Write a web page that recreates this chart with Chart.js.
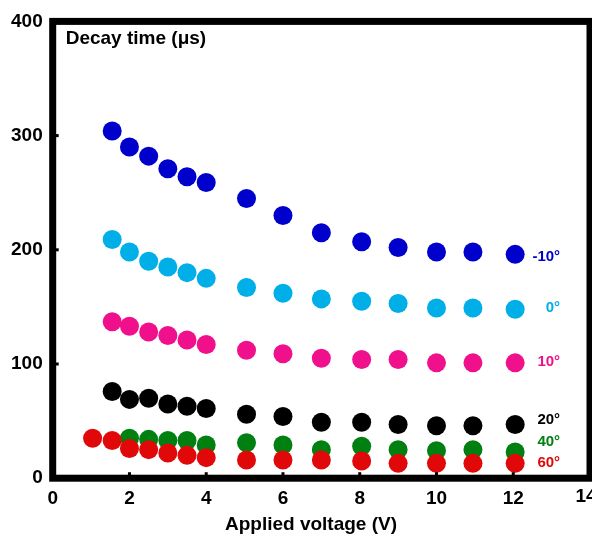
<!DOCTYPE html>
<html>
<head>
<meta charset="utf-8">
<script src="https://cdn.jsdelivr.net/npm/chart.js@4"></script>
<style>
  html, body { margin: 0; padding: 0; background: #fff; }
  #wrap { width: 592px; height: 538px; }
</style>
</head>
<body>
<div id="wrap"><canvas id="chart"></canvas></div>
<script>
// applied voltage (V)
const voltages = [1.55, 2.0, 2.5, 3.0, 3.5, 4.0, 5.05, 6.0, 7.0, 8.05, 9.0, 10.0, 10.95, 12.05];
const voltages40 = voltages.slice(1);
const voltages60 = [1.04].concat(voltages);

// decay time (us) per temperature
const decayM10 = [304, 290, 282, 271, 264, 259, 245, 230, 215, 207, 202, 198, 198, 196];
const decay0 = [209, 198, 190, 185, 180, 175, 167, 162, 157, 155, 153, 149, 149, 148];
const decay10 = [137, 133, 128, 125, 121, 117, 112, 109, 105, 104, 104, 101, 101, 101];
const decay20 = [76, 69, 70, 65, 63, 61, 56, 54, 49, 49, 47, 46, 46, 47];
const decay40 = [35, 34, 33, 33, 29, 31, 29, 25, 28, 25, 24, 25, 23];
const decay60 = [35, 33, 26, 25, 22, 20, 18, 16, 16, 16, 15, 13, 13, 13, 13];

const seriesLabels = ['-10°', '0°', '10°', '20°', '40°', '60°'];
const labelY = [194, 149, 102, 51, 32, 13];
const labelX = 13.22;
const colors = ['#0000cc', '#00aee8', '#f0108c', '#000000', '#008010', '#e00808'];

const xTitle = 'Applied voltage (V)';
const yTitle = 'Decay time (\u03bcs)';

const FONT = 'Liberation Sans, Arial, Helvetica, sans-serif';
const XMAX = 14;

function pts(xs, ys) {
  return ys.map((y, i) => ({ x: xs[i], y: y }));
}

const xsList = [voltages, voltages, voltages, voltages, voltages40, voltages60];
const ysList = [decayM10, decay0, decay10, decay20, decay40, decay60];

const datasets = seriesLabels.map((name, i) => ({
  label: name,
  data: pts(xsList[i], ysList[i]),
  backgroundColor: colors[i],
  borderColor: colors[i],
  pointRadius: 9.5,
  pointBorderWidth: 0,
  showLine: false,
  order: i === 5 ? 0 : 1,
}));

// frame, inward ticks, titles and series labels
const framePlugin = {
  id: 'frame',
  afterDatasetsDraw(chart) {
    const { ctx, chartArea: a, scales } = chart;
    ctx.save();
    ctx.strokeStyle = '#000';
    ctx.lineWidth = 7;
    ctx.strokeRect(a.left, a.top, a.right - a.left, a.bottom - a.top);

    ctx.lineWidth = 3;
    scales.x.ticks.forEach(t => {
      if (t.value <= 0 || t.value >= XMAX) return;
      const px = scales.x.getPixelForValue(t.value);
      ctx.beginPath();
      ctx.moveTo(px, a.bottom);
      ctx.lineTo(px, a.bottom - 6);
      ctx.stroke();
    });
    scales.y.ticks.forEach(t => {
      if (t.value <= 0 || t.value >= 400) return;
      const py = scales.y.getPixelForValue(t.value);
      ctx.beginPath();
      ctx.moveTo(a.left, py);
      ctx.lineTo(a.left + 6, py);
      ctx.stroke();
    });

    ctx.fillStyle = '#000';
    ctx.font = 'bold 19px ' + FONT;
    ctx.textAlign = 'left';
    ctx.textBaseline = 'middle';
    ctx.fillText(yTitle, a.left + 13, a.top + 17);

    // last x tick label runs off the canvas edge, as in the source figure
    ctx.textAlign = 'center';
    ctx.textBaseline = 'top';
    ctx.fillText(String(XMAX), scales.x.getPixelForValue(XMAX) - 4, a.bottom + 9);

    ctx.textBaseline = 'middle';
    ctx.fillText(xTitle, 311, a.bottom + 47);

    ctx.font = 'bold 15px ' + FONT;
    ctx.textAlign = 'right';
    seriesLabels.forEach((name, i) => {
      ctx.fillStyle = colors[i];
      ctx.fillText(name, scales.x.getPixelForValue(labelX), scales.y.getPixelForValue(labelY[i]));
    });
    ctx.restore();
  }
};

new Chart(document.getElementById('chart'), {
  type: 'scatter',
  data: { datasets: datasets },
  options: {
    responsive: true,
    maintainAspectRatio: false,
    animation: false,
    events: [],
    layout: { autoPadding: false, padding: { left: 1, right: 2, top: 13, bottom: 28 } },
    plugins: {
      legend: { display: false },
      tooltip: { enabled: false },
    },
    scales: {
      x: {
        min: 0,
        max: XMAX,
        // invisible tick marks give the label gap without adding side padding
        grid: {
          display: true,
          drawOnChartArea: false,
          drawTicks: true,
          tickLength: 9,
          color: 'rgba(0,0,0,0)',
        },
        border: { display: false },
        ticks: {
          stepSize: 2,
          padding: 0,
          color: '#000',
          font: { family: FONT, size: 19, weight: 'bold' },
          callback: v => (v === XMAX ? '' : v),
        },
      },
      y: {
        min: 0,
        max: 400,
        grid: { display: false, drawTicks: false },
        border: { display: false },
        ticks: {
          stepSize: 100,
          padding: 10,
          color: '#000',
          font: { family: FONT, size: 19, weight: 'bold' },
        },
      },
    },
  },
  plugins: [framePlugin],
});
</script>
</body>
</html>
